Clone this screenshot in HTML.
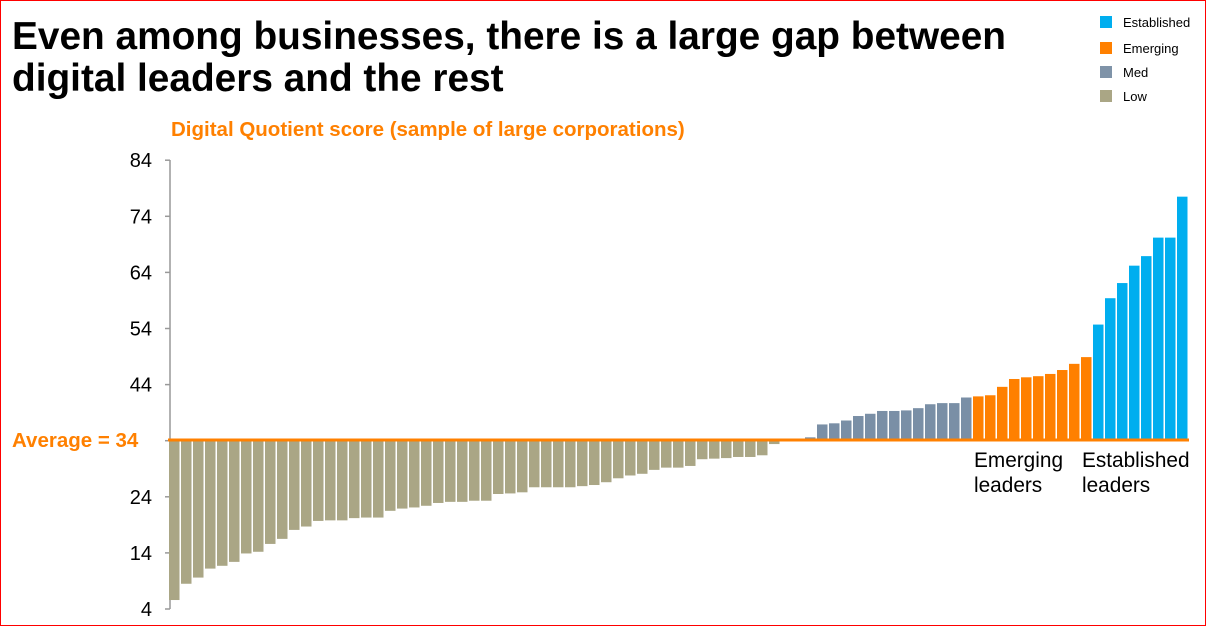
<!DOCTYPE html>
<html><head><meta charset="utf-8"><style>
html,body{margin:0;padding:0;background:#fff;}
body{width:1206px;height:626px;overflow:hidden;position:relative;font-family:"Liberation Sans",Arial,sans-serif;}
#frame{position:absolute;left:0;top:0;width:1204px;height:624px;border:1px solid #f00;}
</style></head><body>
<div id="frame"></div>
<svg id="c" width="1206" height="626" style="position:absolute;left:0;top:0" font-family="Liberation Sans, Arial, sans-serif">
<text x="12" y="49" font-size="38.8" font-weight="bold" fill="#000">Even among businesses, there is a large gap between</text>
<text x="12" y="91" font-size="38.8" font-weight="bold" fill="#000">digital leaders and the rest</text>
<text x="171" y="136" font-size="20.5" font-weight="bold" fill="#ff8000">Digital Quotient score (sample of large corporations)</text>
<rect x="1100" y="16" width="12" height="12" fill="#00aeef"/><text x="1123" y="27" font-size="13">Established</text>
<rect x="1100" y="42" width="12" height="12" fill="#ff8000"/><text x="1123" y="53" font-size="13">Emerging</text>
<rect x="1100" y="66" width="12" height="12" fill="#7f93a8"/><text x="1123" y="77" font-size="13">Med</text>
<rect x="1100" y="90" width="12" height="12" fill="#aaa685"/><text x="1123" y="101" font-size="13">Low</text>
<g id="axis" stroke="#999" stroke-width="1.5"><line x1="170" y1="160" x2="170" y2="609"/></g>
<g id="labels" font-size="20" text-anchor="end" fill="#000"></g>
<g id="bars"></g>
<line x1="168" y1="440" x2="1189" y2="440" stroke="#ff8000" stroke-width="3"/>
<text x="12" y="447" font-size="20.5" font-weight="bold" fill="#ff8000">Average = 34</text>
<text x="974" y="467" font-size="20.8" fill="#000">Emerging</text>
<text x="974" y="492" font-size="20.8" fill="#000">leaders</text>
<text x="1082" y="467" font-size="20.8" fill="#000">Established</text>
<text x="1082" y="492" font-size="20.8" fill="#000">leaders</text>
</svg>
<script>
var v=[5.6,8.5,9.6,11.2,11.7,12.4,13.9,14.2,15.6,16.5,18.1,18.7,19.7,19.8,19.8,20.2,20.3,20.3,21.5,21.9,22.1,22.4,22.9,23.1,23.1,23.3,23.3,24.5,24.6,
24.8,25.7,25.7,25.7,25.7,25.9,26.1,26.6,27.3,27.8,28.1,28.8,29.2,29.2,29.5,30.7,30.8,30.9,31.1,31.1,31.4,33.4,34,34,
34.6,36.9,37.1,37.6,38.4,38.8,39.3,39.3,39.4,39.8,40.5,40.7,40.7,41.7,
41.9,42.1,43.6,45.0,45.3,45.5,45.9,46.6,47.7,48.9,
54.7,59.4,62.1,65.2,66.9,70.2,70.2,77.5];
function Y(x){return 609-(x-4)*5.61;}
var ns="http://www.w3.org/2000/svg",g=document.getElementById('bars'),L=document.getElementById('labels'),A=document.getElementById('axis');
for(var t=4;t<=84;t+=10){var y=Y(t);
 var l=document.createElementNS(ns,'line');l.setAttribute('x1',165);l.setAttribute('x2',170);l.setAttribute('y1',y);l.setAttribute('y2',y);A.appendChild(l);
 if(t!=34){var tx=document.createElementNS(ns,'text');tx.setAttribute('x',152);tx.setAttribute('y',y+7);tx.textContent=t;L.appendChild(tx);}}
for(var i=0;i<v.length;i++){
 var c=i<53?'#aaa685':(i<67?'#7a8fa6':(i<77?'#ff8000':'#00aeef'));
 var x=169+i*12,y1=Y(v[i]),y0=440;
 var r=document.createElementNS(ns,'rect');r.setAttribute('x',x);r.setAttribute('width',10.5);
 r.setAttribute('y',Math.min(y0,y1));r.setAttribute('height',Math.abs(y1-y0));r.setAttribute('fill',c);g.appendChild(r);}
</script>
</body></html>
